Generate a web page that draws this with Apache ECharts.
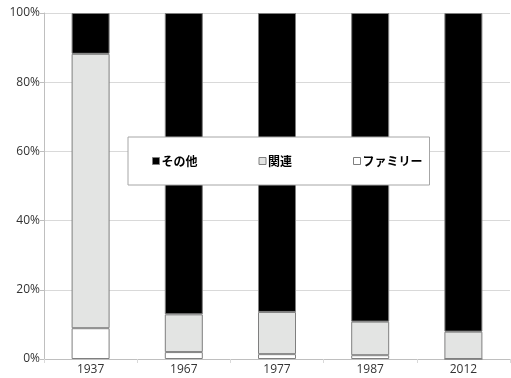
<!DOCTYPE html>
<html><head><meta charset="utf-8">
<script src="https://cdn.jsdelivr.net/npm/echarts@6/dist/echarts.min.js"></script>
<style>html,body{margin:0;padding:0;background:#fff}#c{width:511px;height:378px}</style>
</head><body><div id="c"></div>
<script>
var categories = ['1937', '1967', '1977', '1987', '2012'];
var family = [8.9, 2.0, 1.4, 1.1, 0];
var related = [79.3, 10.9, 12.2, 9.7, 7.9];
var other = [11.8, 87.1, 86.4, 89.2, 92.1];
var yTicks = [0, 20, 40, 60, 80, 100];
var names = ['その他', '関連', 'ファミリー'];

var chart = echarts.init(document.getElementById('c'));
var labelFont = '"Open Sans", "Noto Sans", sans-serif';
function bar(name, data, color) {
  return {
    name: name, type: 'bar', stack: 'all', data: data, barWidth: 38,
    itemStyle: { color: color, borderColor: '#7f7f7f', borderWidth: 1 },
    emphasis: { disabled: true }
  };
}
chart.setOption({
  animation: false,
  grid: { left: 44, right: 1, top: 13, bottom: 19 },
  xAxis: {
    type: 'category', data: categories,
    axisLine: { lineStyle: { color: '#bfbfbf' } },
    axisTick: { show: true, length: 4, lineStyle: { color: '#d9d9d9' } },
    axisLabel: { color: '#333333', fontSize: 12, fontFamily: labelFont, margin: 5 }
  },
  yAxis: {
    type: 'value', min: yTicks[0], max: yTicks[yTicks.length - 1], interval: 20,
    axisLine: { show: true, lineStyle: { color: '#bfbfbf' } },
    axisTick: { show: true, length: 4, lineStyle: { color: '#bfbfbf' } },
    axisLabel: { color: '#333333', fontSize: 12, fontFamily: labelFont, margin: 4,
      formatter: function (v) { return v + '%'; } },
    splitLine: { lineStyle: { color: '#d9d9d9' } }
  },
  legend: {
    data: names.map(function (n) { return { name: n, icon: 'rect' }; }),
    left: 128, top: 137,
    padding: [18, 7, 18, 24],
    itemWidth: 7, itemHeight: 7, itemGap: 61,
    backgroundColor: '#fff', borderColor: '#a6a6a6', borderWidth: 1,
    textStyle: { fontFamily: '"Noto Sans CJK JP", sans-serif', fontWeight: 'bold', fontSize: 12, color: '#000', padding: [0, 0, 0, -3] },
    itemStyle: { borderColor: '#7f7f7f', borderWidth: 1 }
  },
  series: [
    bar('ファミリー', family, '#ffffff'),
    bar('関連', related, '#e3e4e3'),
    bar('その他', other, '#000000')
  ]
});
</script></body></html>
